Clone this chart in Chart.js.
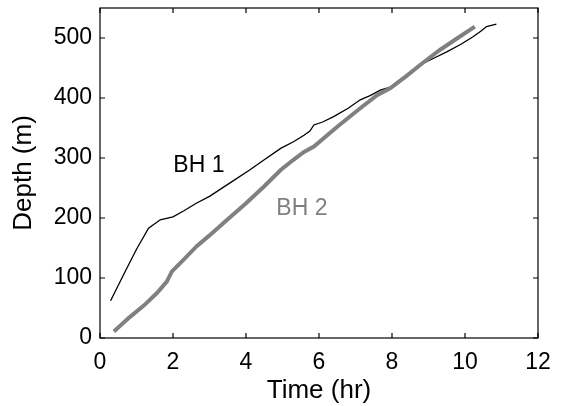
<!DOCTYPE html>
<html>
<head>
<meta charset="utf-8">
<script src="https://cdn.jsdelivr.net/npm/chart.js@4"></script>
<style>
  html,body{margin:0;padding:0;background:#fff;}
  #wrap{width:562px;height:406px;}
</style>
</head>
<body>
<div id="wrap"><canvas id="chart" width="562" height="406"></canvas></div>
<script>
// ---- DATA (time in hr, depth in m) ----
const bh1Time  = [0.29, 0.7, 1.0, 1.33, 1.65, 2.0, 2.3, 2.65, 3.0, 3.5, 4.1, 4.5, 4.95, 5.3, 5.59, 5.75, 5.86, 6.1, 6.4, 6.8, 7.13, 7.4, 7.68, 7.95, 8.3, 8.77, 9.1, 9.5, 9.9, 10.22, 10.45, 10.59, 10.86];
const bh1Depth = [62, 112, 148, 183, 197, 202, 212, 225, 236, 256, 280, 297, 316, 327, 338, 345, 355, 360, 369, 383, 397, 404, 413, 418, 434, 455, 465, 477, 490, 502, 512, 519, 523];

const bh2Time  = [0.38, 0.8, 1.2, 1.56, 1.83, 1.97, 2.3, 2.65, 3.0, 3.5, 4.01, 4.5, 4.95, 5.3, 5.59, 5.86, 6.5, 7.13, 7.6, 7.95, 8.4, 8.77, 9.31, 9.8, 10.27];
const bh2Depth = [11, 34, 54, 75, 94, 111, 131, 153, 171, 198, 225, 253, 280, 297, 310, 319, 352, 383, 405, 416, 437, 455, 480, 500, 519];

const xTicks = [0, 2, 4, 6, 8, 10, 12];
const yTicks = [0, 100, 200, 300, 400, 500];

// in-plot series labels, anchored at left end of text baseline
const seriesLabels = [
  { text: "BH 1", t: 2.01, d: 277, color: "#000000" },
  { text: "BH 2", t: 4.83, d: 205, color: "#808080" }
];

const FONT = "'Liberation Sans', Arial, Helvetica, sans-serif";

const toPts = (xs, ys) => xs.map((x, i) => ({ x, y: ys[i] }));

// ---- frame, inward ticks and in-plot labels ----
const framePlugin = {
  id: "frame",
  afterDraw(chart) {
    const { ctx, chartArea: a, scales } = chart;
    const xs = scales.x, ys = scales.y;
    ctx.save();
    ctx.strokeStyle = "#000";
    ctx.lineWidth = 1.2;
    ctx.strokeRect(a.left, a.top, a.right - a.left, a.bottom - a.top);
    const tl = 5;
    ctx.beginPath();
    xTicks.forEach(v => {
      const px = xs.getPixelForValue(v);
      ctx.moveTo(px, a.bottom); ctx.lineTo(px, a.bottom - tl);
      ctx.moveTo(px, a.top); ctx.lineTo(px, a.top + tl);
    });
    yTicks.forEach(v => {
      const py = ys.getPixelForValue(v);
      ctx.moveTo(a.left, py); ctx.lineTo(a.left + tl, py);
      ctx.moveTo(a.right, py); ctx.lineTo(a.right - tl, py);
    });
    ctx.stroke();

    ctx.font = "23px " + FONT;
    ctx.textBaseline = "alphabetic";
    ctx.textAlign = "left";
    seriesLabels.forEach(l => {
      ctx.fillStyle = l.color;
      ctx.fillText(l.text, xs.getPixelForValue(l.t), ys.getPixelForValue(l.d));
    });
    ctx.restore();
  }
};

new Chart(document.getElementById("chart"), {
  type: "line",
  data: {
    datasets: [
      {
        label: "BH 2",
        data: toPts(bh2Time, bh2Depth),
        borderColor: "#808080",
        borderWidth: 4,
        pointRadius: 0,
        tension: 0,
        borderCapStyle: "butt"
      },
      {
        label: "BH 1",
        data: toPts(bh1Time, bh1Depth),
        borderColor: "#000000",
        borderWidth: 1.3,
        pointRadius: 0,
        tension: 0
      }
    ]
  },
  options: {
    responsive: false,
    animation: false,
    layout: { padding: { top: 8, right: 24, left: 0, bottom: 0 } },
    plugins: { legend: { display: false }, tooltip: { enabled: false } },
    scales: {
      x: {
        type: "linear",
        min: 0, max: 12,
        afterBuildTicks: s => { s.ticks = xTicks.map(v => ({ value: v })); },
        afterFit: s => { s.height = 68; s.paddingLeft = 0; s.paddingRight = 0; },
        grid: { display: false, drawTicks: false },
        border: { display: false },
        ticks: { color: "#000", font: { family: FONT, size: 23 }, padding: 11, maxRotation: 0 },
        title: { display: true, text: "Time (hr)", color: "#000", font: { family: FONT, size: 26 }, padding: { top: 0, bottom: 0 } }
      },
      y: {
        type: "linear",
        min: 0, max: 550,
        afterBuildTicks: s => { s.ticks = yTicks.map(v => ({ value: v })); },
        afterFit: s => { s.width = 100; s.paddingTop = 0; s.paddingBottom = 0; },
        grid: { display: false, drawTicks: false },
        border: { display: false },
        ticks: { color: "#000", font: { family: FONT, size: 23 }, padding: 8 },
        title: { display: true, text: "Depth (m)", color: "#000", font: { family: FONT, size: 26 }, padding: { top: 8, bottom: 0 } }
      }
    }
  },
  plugins: [framePlugin]
});
</script>
</body>
</html>
